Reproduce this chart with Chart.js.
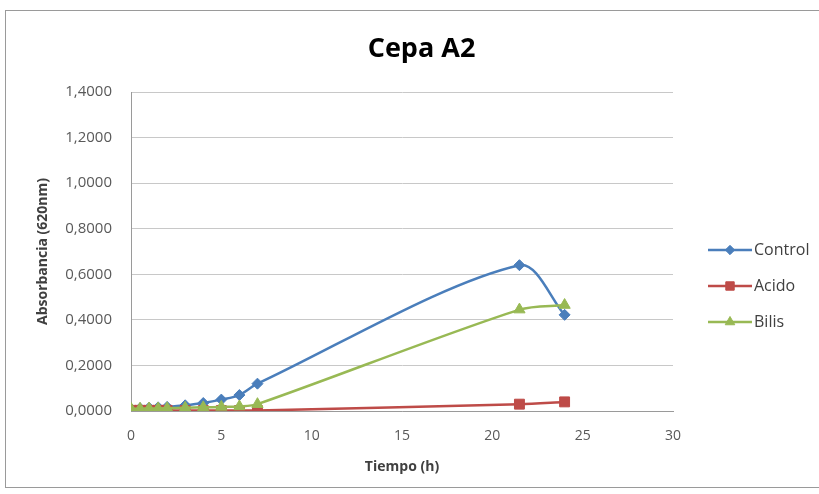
<!DOCTYPE html>
<html><head><meta charset="utf-8">
<script src="https://cdn.jsdelivr.net/npm/chart.js@4/dist/chart.umd.min.js"></script>
<style>
html,body{margin:0;padding:0;background:#fff;}
#wrap{position:relative;width:819px;height:494px;overflow:hidden;}
#frame{position:absolute;left:5px;top:10px;width:830px;height:476px;border:1px solid #9a9a9a;pointer-events:none;}
canvas{position:absolute;left:0;top:0;}
</style></head><body>
<div id="wrap"><canvas id="c" width="819" height="494"></canvas><div id="frame"></div></div>
<script>
// ---- data ----
const times   = [0, 0.5, 1, 1.5, 2, 3, 4, 5, 6, 7, 21.5, 24];
const control = [0.010, 0.012, 0.014, 0.016, 0.018, 0.025, 0.035, 0.050, 0.070, 0.120, 0.640, 0.422];
const acido   = [0.003, 0.003, 0.003, 0.003, 0.003, 0.002, 0.002, 0.002, 0.002, 0.002, 0.030, 0.040];
const bilis   = [0.010, 0.010, 0.011, 0.011, 0.012, 0.014, 0.016, 0.018, 0.020, 0.030, 0.445, 0.465];
const seriesNames = ['Control', 'Acido', 'Bilis'];
const xTickValues = [0, 5, 10, 15, 20, 25, 30];
const yTickValues = [0, 0.2, 0.4, 0.6, 0.8, 1.0, 1.2, 1.4];
const chartTitle = 'Cepa A2';
const xTitle = 'Tiempo (h)';
const yTitle = 'Absorbancia (620nm)';

// ---- styling ----
const colors = ['#4A7EBB', '#BE4B48', '#98B954'];
const pStyles = ['rectRot', 'rect', 'triangle'];
const pRadius = [5.5, 7, 6.5];
const FONT = "'Open Sans', 'DejaVu Sans', sans-serif";

function makeIcon(i) {
  const cv = document.createElement('canvas');
  cv.width = 65; cv.height = 18;
  const ctx = cv.getContext('2d');
  ctx.strokeStyle = colors[i]; ctx.lineWidth = 2.5;
  ctx.beginPath(); ctx.moveTo(21, 9); ctx.lineTo(65, 9); ctx.stroke();
  ctx.fillStyle = colors[i]; ctx.strokeStyle = colors[i]; ctx.lineWidth = 1;
  Chart.helpers.drawPoint(ctx, {pointStyle: pStyles[i], radius: pRadius[i] * 0.85, rotation: 0, borderWidth: 1}, 43, 9);
  return cv;
}

const seriesValues = [control, acido, bilis];
const datasets = seriesNames.map((name, i) => ({
  label: name,
  data: times.map((t, k) => ({x: t, y: seriesValues[i][k]})),
  order: seriesNames.length - 1 - i,   // later series drawn on top, like Excel
  borderColor: colors[i],
  backgroundColor: colors[i],
  borderWidth: 2.5,
  tension: 0.3,
  pointStyle: pStyles[i],
  pointRadius: pRadius[i],
  pointBorderWidth: 1,
  pointBackgroundColor: colors[i],
  pointBorderColor: colors[i],
  fill: false
}));
const icons = seriesNames.map((_, i) => makeIcon(i));

new Chart(document.getElementById('c'), {
  type: 'line',
  data: {datasets},
  options: {
    responsive: false,
    devicePixelRatio: 1,
    animation: false,
    layout: {padding: {left: 24, right: 0, top: 0, bottom: 0}},
    plugins: {
      title: {
        display: true, text: chartTitle, color: '#000',
        font: {family: FONT, size: 27, weight: 'bold'},
        padding: {top: 32.8, bottom: 26.8}
      },
      legend: {
        position: 'right',
        maxWidth: 146,
        title: {display: true, text: ' ', font: {size: 10}, padding: 33},
        labels: {
          usePointStyle: true,
          pointStyleWidth: 53,
          padding: 20,
          color: '#404040',
          font: {family: FONT, size: 16},
          generateLabels: (chart) => chart.data.datasets.map((ds, i) => ({
            text: ds.label, pointStyle: icons[i], fillStyle: colors[i],
            strokeStyle: colors[i], lineWidth: 0, hidden: false, datasetIndex: i, fontColor: '#404040'
          }))
        }
      },
      tooltip: {enabled: false}
    },
    scales: {
      x: {
        type: 'linear', min: 0, max: 30,
        afterBuildTicks: (s) => { s.ticks = xTickValues.map(v => ({value: v})); },
        afterFit: (s) => { s.height = 83; },
        grid: {display: true, drawOnChartArea: false, drawTicks: false},
        border: {display: true, color: '#9a9a9a', width: 1},
        ticks: {color: '#595959', font: {family: FONT, size: 14}, padding: 17, maxRotation: 0},
        title: {display: true, text: xTitle, color: '#404040', font: {family: FONT, size: 14, weight: 'bold'}, padding: {top: 18.5, bottom: 18.5}}
      },
      y: {
        type: 'linear', min: 0, max: 1.4,
        afterBuildTicks: (s) => { s.ticks = yTickValues.map(v => ({value: v})); },
        afterFit: (s) => { s.width = 107; },
        grid: {color: '#c8c8c8', drawTicks: false, lineWidth: 1},
        border: {display: true, color: '#9a9a9a', width: 1},
        ticks: {color: '#595959', font: {family: FONT, size: 15}, padding: 19,
          callback: (v) => Number(v).toFixed(4).replace('.', ',')},
        title: {display: true, text: yTitle, color: '#404040', font: {family: FONT, size: 14, weight: 'bold'}, padding: {top: 10.6, bottom: 10.6}}
      }
    }
  }
});
</script>
</body></html>
